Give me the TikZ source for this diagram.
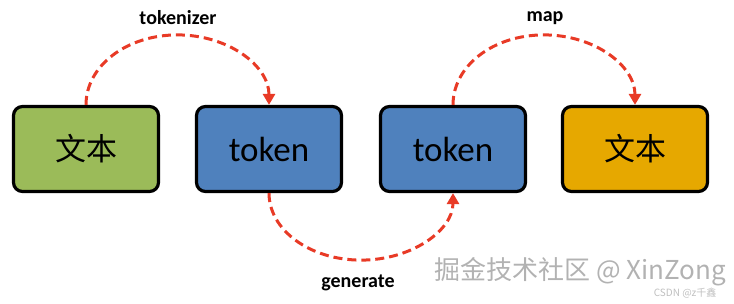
\documentclass[tikz,border=0pt]{standalone}
\usepackage{fontspec}
\setmainfont{Carlito}
\newfontfamily\cjk{Noto Sans CJK SC}
\usetikzlibrary{arrows.meta,calc}
\definecolor{txtgreen}{RGB}{155,187,89}
\definecolor{tokblue}{RGB}{79,129,189}
\definecolor{outorange}{RGB}{230,168,0}
\definecolor{arcred}{RGB}{232,58,38}
\begin{document}
\begin{tikzpicture}[x=1pt,y=-1pt,
  box/.style={draw=black,line width=3.2pt,rounded corners=9pt,minimum width=145pt,minimum height=85pt,inner sep=0pt,font=\fontsize{35}{40}\selectfont},
  flow/.style={draw=arcred,line width=3pt,dash pattern=on 9pt off 5pt,-{Triangle[length=11pt,width=12pt]}},
  lbl/.style={font=\bfseries\fontsize{20}{24}\selectfont}]
\useasboundingbox (0,0) rectangle (734,303);
\node[box,fill=txtgreen] (txtin) at (86,149) {\cjk\fontsize{31}{36}\selectfont 文本};
\node[box,fill=tokblue] (tokin) at (269,149) {token};
\node[box,fill=tokblue] (tokout) at (453,149) {token};
\node[box,fill=outorange] (txtout) at (635,149) {\cjk\fontsize{31}{36}\selectfont 文本};
% half ellipses
\draw[flow] (txtin.north) .. controls +(0,-39) and +(-51,0) .. ($(txtin.north)!0.5!(tokin.north)+(0,-70)$)
  .. controls +(51,0) and +(0,-39) .. (tokin.north);
\draw[flow] (tokin.south) .. controls +(0,37) and +(-51,0) .. ($(tokin.south)!0.5!(tokout.south)+(0,67)$)
  .. controls +(51,0) and +(0,37) .. (tokout.south);
\draw[flow] (tokout.north) .. controls +(0,-39) and +(-51,0) .. ($(tokout.north)!0.5!(txtout.north)+(0,-70)$)
  .. controls +(51,0) and +(0,-39) .. (txtout.north);
\node[lbl] (tokenizer) at (178,18) {tokenizer};
\node[lbl] (generate) at (358,283) {generate};
\node[lbl] (map) at (545,18) {map};
% watermarks
\node[text=gray!60,font=\cjk\fontsize{26}{30}\selectfont] (mark) at (580,272) {掘金技术社区 @ XinZong};
\node[text=gray!50,font=\cjk\fontsize{10}{12}\selectfont,anchor=east] (csdn) at (720,293) {CSDN @z千鑫};
\end{tikzpicture}
\end{document}
